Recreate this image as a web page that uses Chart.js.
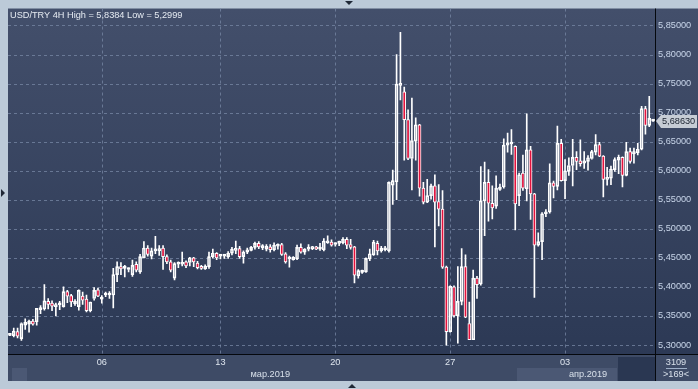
<!DOCTYPE html>
<html>
<head>
<meta charset="utf-8">
<script src="https://cdn.jsdelivr.net/npm/chart.js@4.4.0/dist/chart.umd.min.js"></script>
<style>
  html, body { margin: 0; padding: 0; background: #bccad8; }
  #wrap { width: 698px; height: 389px; position: relative; }
</style>
</head>
<body>
<div id="wrap"><canvas id="Chart"></canvas></div>
<script>
// USD/TRY 4H candles
var opens = [
  5.3165,5.316,5.323,5.311,5.334,5.336,5.341,5.340,5.361,5.362,5.375,5.372,5.366,5.369,5.366,5.392,5.385,5.371,5.366,5.384,5.379,5.359,5.380,5.395,5.379,5.386,5.386,5.386,5.421,5.435,5.432,5.430,5.421,
  5.439,5.426,5.450,5.467,5.453,5.462,5.462,5.467,5.452,5.443,5.415,5.439,5.439,5.443,5.442,5.450,5.441,5.434,5.431,5.435,5.452,5.458,5.453,5.453,5.452,5.458,5.463,5.466,5.452,5.460,5.463,5.468,5.475,5.467,
  5.465,5.469,5.464,5.470,5.473,5.457,5.448,5.447,5.448,5.468,5.460,5.465,5.466,5.469,5.465,5.464,5.476,5.477,5.473,5.475,5.476,5.482,5.473,5.469,5.419,5.425,5.426,5.448,5.455,5.475,5.462,5.464,5.462,
  5.575,5.581,5.747,5.736,5.688,5.621,5.651,5.679,5.570,5.546,5.557,5.574,5.547,5.534,5.434,5.323,5.400,5.350,5.375,5.435,5.337,5.309,5.415,5.405,5.548,5.580,5.544,5.539,5.568,5.572,5.644,5.646,5.642,5.557,5.596,
  5.569,5.636,5.560,5.472,5.478,5.526,5.529,5.579,5.573,5.647,5.583,5.599,5.609,5.623,5.617,5.613,5.616,5.621,5.632,5.645,5.625,5.585,5.587,5.602,5.618,5.623,5.592,5.633,5.629,5.631,5.637,5.707,5.678,5.6855
];
var highs = [
  5.318,5.329,5.329,5.338,5.345,5.343,5.344,5.363,5.368,5.404,5.380,5.376,5.372,5.375,5.400,5.394,5.387,5.378,5.395,5.391,5.386,5.374,5.399,5.398,5.385,5.391,5.392,5.432,5.443,5.442,5.437,5.433,5.446,
  5.443,5.456,5.478,5.471,5.467,5.487,5.471,5.471,5.455,5.446,5.442,5.443,5.460,5.445,5.451,5.451,5.444,5.437,5.438,5.460,5.465,5.459,5.456,5.456,5.461,5.468,5.479,5.470,5.462,5.467,5.470,5.477,5.478,5.473,
  5.473,5.473,5.476,5.474,5.475,5.459,5.453,5.452,5.472,5.474,5.466,5.473,5.470,5.470,5.475,5.483,5.488,5.481,5.476,5.479,5.485,5.485,5.482,5.470,5.430,5.429,5.450,5.465,5.480,5.479,5.470,5.470,5.581,
  5.601,5.800,5.8384,5.744,5.705,5.725,5.691,5.680,5.580,5.585,5.577,5.593,5.576,5.566,5.436,5.402,5.402,5.435,5.466,5.455,5.374,5.429,5.418,5.607,5.615,5.602,5.574,5.591,5.577,5.655,5.665,5.671,5.643,5.596,5.627,
  5.698,5.642,5.561,5.493,5.528,5.533,5.612,5.582,5.677,5.654,5.619,5.622,5.654,5.633,5.653,5.633,5.626,5.635,5.662,5.649,5.626,5.606,5.608,5.622,5.627,5.624,5.649,5.639,5.639,5.647,5.711,5.711,5.728,5.687
];
var lows = [
  5.316,5.314,5.312,5.308,5.327,5.322,5.334,5.334,5.354,5.360,5.362,5.359,5.350,5.361,5.365,5.373,5.366,5.368,5.360,5.370,5.357,5.357,5.377,5.383,5.372,5.383,5.380,5.364,5.409,5.421,5.417,5.426,5.418,
  5.426,5.423,5.450,5.453,5.448,5.457,5.454,5.430,5.440,5.426,5.412,5.433,5.436,5.433,5.436,5.435,5.431,5.430,5.430,5.432,5.450,5.447,5.448,5.449,5.449,5.455,5.457,5.449,5.441,5.457,5.462,5.465,5.466,5.464,
  5.462,5.460,5.462,5.465,5.454,5.441,5.434,5.446,5.447,5.458,5.456,5.462,5.464,5.464,5.463,5.462,5.475,5.470,5.470,5.471,5.474,5.466,5.465,5.407,5.415,5.423,5.425,5.445,5.454,5.455,5.460,5.462,5.460,
  5.542,5.550,5.722,5.618,5.619,5.567,5.618,5.556,5.543,5.545,5.551,5.469,5.505,5.432,5.2999,5.322,5.348,5.303,5.369,5.347,5.309,5.309,5.380,5.403,5.488,5.513,5.517,5.535,5.566,5.570,5.632,5.628,5.498,5.540,5.566,
  5.548,5.516,5.382,5.470,5.447,5.521,5.527,5.553,5.567,5.582,5.552,5.592,5.574,5.602,5.608,5.604,5.601,5.620,5.627,5.624,5.555,5.575,5.576,5.599,5.595,5.572,5.591,5.613,5.613,5.627,5.636,5.663,5.676,5.685
];
var closes = [
  5.3175,5.324,5.315,5.337,5.339,5.341,5.336,5.363,5.363,5.376,5.370,5.367,5.369,5.371,5.392,5.384,5.374,5.375,5.394,5.377,5.359,5.374,5.394,5.384,5.380,5.387,5.388,5.421,5.435,5.431,5.433,5.431,5.437,
  5.429,5.452,5.467,5.456,5.462,5.465,5.466,5.452,5.443,5.429,5.440,5.441,5.441,5.436,5.450,5.443,5.433,5.432,5.436,5.452,5.458,5.450,5.455,5.455,5.458,5.465,5.466,5.452,5.460,5.464,5.468,5.475,5.469,5.471,
  5.470,5.464,5.472,5.472,5.456,5.443,5.449,5.451,5.468,5.460,5.465,5.467,5.469,5.465,5.466,5.479,5.479,5.472,5.475,5.477,5.482,5.472,5.468,5.420,5.428,5.426,5.449,5.457,5.477,5.462,5.467,5.467,5.580,
  5.583,5.749,5.750,5.688,5.621,5.652,5.679,5.570,5.546,5.557,5.574,5.546,5.534,5.434,5.323,5.401,5.350,5.375,5.435,5.348,5.309,5.415,5.404,5.548,5.580,5.544,5.536,5.570,5.572,5.644,5.648,5.649,5.543,5.593,5.570,
  5.636,5.560,5.472,5.478,5.526,5.529,5.579,5.573,5.647,5.583,5.600,5.609,5.623,5.616,5.612,5.617,5.622,5.633,5.645,5.625,5.585,5.588,5.603,5.619,5.623,5.592,5.633,5.616,5.633,5.637,5.707,5.678,5.690,5.6863
];

// Axis ticks
var yTicks = [5.30, 5.35, 5.40, 5.45, 5.50, 5.55, 5.60, 5.65, 5.70, 5.75, 5.80, 5.85];
var dayTickIndex = [24, 55, 85, 115, 145];
var dayTickText = ['06', '13', '20', '27', '03'];
var monthText = ['мар.2019', 'апр.2019'];
var monthIndex = [68, 151];

var titleText = 'USD/TRY 4H High = 5,8384 Low = 5,2999';
var barCount = '3109';
var visibleCount = '>169<';

var FONT = '9.2px "Liberation Sans", Arial, sans-serif';

// ----------------------------------- Data for bars -------------------------------------------
var labels = opens.map(function(v, i) { return i; });
var bodies = opens.map(function(o, i) { return [o, closes[i]]; });
var upperWick = highs.map(function(h, i) { return [Math.max(opens[i], closes[i]), h]; });
var lowerWick = lows.map(function(l, i) { return [l, Math.min(opens[i], closes[i])]; });

function fmt(v) { return v.toFixed(5).replace('.', ','); }

// ----------------------------------- Decoration plugin -------------------------------------------
var frame = {
  id: 'frame',
  beforeDraw: function(chart) {
    var ctx = chart.ctx, a = chart.chartArea;
    var W = chart.width, H = chart.height;
    var xs = chart.scales.x;
    ctx.save();
    ctx.fillStyle = '#bccad8';
    ctx.fillRect(0, 0, W, H);
    // plot + right axis panel
    var g = ctx.createLinearGradient(0, a.top, 0, a.bottom);
    g.addColorStop(0, '#434f6b');
    g.addColorStop(1, '#2c3955');
    ctx.fillStyle = g;
    ctx.fillRect(a.left, a.top, W - a.left, a.bottom - a.top);
    // bottom axis strip
    ctx.fillStyle = '#3e4b66';
    ctx.fillRect(a.left, a.bottom, W - a.left, xs.bottom - a.bottom);
    ctx.fillStyle = '#4b5874';
    ctx.fillRect(12, a.bottom + 14, 15, xs.bottom - a.bottom - 14);
    ctx.fillRect(517, a.bottom + 14, 100, xs.bottom - a.bottom - 14);
    ctx.fillStyle = '#2a3752';
    ctx.fillRect(618, a.bottom + 3, a.right - 618, xs.bottom - a.bottom - 3);
    // little triangles on the frame
    ctx.fillStyle = '#1f2836';
    ctx.beginPath(); ctx.moveTo(345, 1); ctx.lineTo(353, 1); ctx.lineTo(349, 5); ctx.fill();
    ctx.beginPath(); ctx.moveTo(348, 388); ctx.lineTo(356, 388); ctx.lineTo(352, 384); ctx.fill();
    ctx.beginPath(); ctx.moveTo(1, 189); ctx.lineTo(1, 197); ctx.lineTo(5, 193); ctx.fill();
    ctx.restore();
  },
  beforeDatasetsDraw: function(chart) {
    var ctx = chart.ctx, a = chart.chartArea;
    var xs = chart.scales.x, ys = chart.scales.y;
    ctx.save();
    ctx.strokeStyle = 'rgba(120,136,166,0.75)';
    ctx.lineWidth = 1;
    ctx.setLineDash([3, 3]);
    yTicks.forEach(function(v) {
      var y = Math.round(ys.getPixelForValue(v)) + 0.5;
      ctx.beginPath(); ctx.moveTo(a.left, y); ctx.lineTo(a.right, y); ctx.stroke();
    });
    dayTickIndex.forEach(function(i) {
      var x = Math.round(xs.getPixelForValue(i)) + 0.5;
      ctx.beginPath(); ctx.moveTo(x, a.top); ctx.lineTo(x, a.bottom); ctx.stroke();
    });
    ctx.restore();
  },
  afterDraw: function(chart) {
    var ctx = chart.ctx, a = chart.chartArea;
    var xs = chart.scales.x, ys = chart.scales.y;
    var W = chart.width;
    ctx.save();
    // separators
    ctx.strokeStyle = '#05080d';
    ctx.lineWidth = 1;
    ctx.beginPath();
    ctx.moveTo(a.left, a.bottom + 0.5); ctx.lineTo(W, a.bottom + 0.5);
    ctx.moveTo(a.right + 0.5, a.top); ctx.lineTo(a.right + 0.5, xs.bottom);
    ctx.stroke();
    // title
    ctx.font = FONT;
    ctx.fillStyle = '#e6ebf2';
    ctx.textAlign = 'left';
    ctx.textBaseline = 'middle';
    ctx.fillText(titleText, 10, a.top + 7);
    // month labels
    ctx.textAlign = 'center';
    ctx.fillStyle = '#d8e0ea';
    monthText.forEach(function(t, k) {
      ctx.fillText(t, xs.getPixelForValue(monthIndex[k]), a.bottom + 20);
    });
    // bar counters
    ctx.fillText(barCount, 676, a.bottom + 8);
    ctx.fillText(visibleCount, 676, a.bottom + 20);
    ctx.strokeStyle = '#9fb0c8';
    ctx.beginPath(); ctx.moveTo(666, a.bottom + 14.5); ctx.lineTo(687, a.bottom + 14.5); ctx.stroke();
    // last price marker
    var last = closes[closes.length - 1];
    var y = Math.round(ys.getPixelForValue(last));
    ctx.fillStyle = '#c6ccd5';
    ctx.beginPath();
    ctx.moveTo(656, y);
    ctx.lineTo(661, y - 6);
    ctx.lineTo(697, y - 6);
    ctx.lineTo(697, y + 7);
    ctx.lineTo(661, y + 7);
    ctx.closePath();
    ctx.fill();
    ctx.fillStyle = '#18202e';
    ctx.textAlign = 'left';
    ctx.fillText(fmt(last), 662, y + 0.5);
    ctx.restore();
  }
};

// ----------------------------------- Chart.js -------------------------------------------
var wickStyle = {
  type: 'bar',
  backgroundColor: '#ffffff',
  borderWidth: 0,
  barThickness: 1,
  grouped: false,
  order: 2
};

var myChart = new Chart(document.getElementById('Chart'), {
  type: 'bar',
  data: {
    labels: labels,
    datasets: [
      Object.assign({ label: 'upper', data: upperWick }, wickStyle),
      Object.assign({ label: 'lower', data: lowerWick }, wickStyle),
      {
        label: 'USD/TRY',
        data: bodies,
        backgroundColor: function(c) {
          var i = c.dataIndex;
          return closes[i] >= opens[i] ? 'rgba(0,0,0,0)' : '#e3123d';
        },
        borderColor: '#ffffff',
        borderWidth: 1,
        borderSkipped: false,
        barThickness: 3,
        minBarLength: 2,
        grouped: false,
        order: 1
      }
    ]
  },
  options: {
    responsive: true,
    maintainAspectRatio: false,
    animation: false,
    events: [],
    layout: { padding: { left: 8, top: 8, right: 0, bottom: 8 } },
    plugins: { legend: { display: false }, tooltip: { enabled: false } },
    scales: {
      x: {
        type: 'category',
        offset: true,
        grid: { display: false, drawTicks: false },
        border: { display: false },
        ticks: {
          autoSkip: false,
          maxRotation: 0,
          padding: 3,
          color: '#dfe6ef',
          font: { family: '"Liberation Sans", Arial, sans-serif', size: 9.2 },
          callback: function(v, i) {
            var k = dayTickIndex.indexOf(i);
            return k >= 0 ? dayTickText[k] : '';
          }
        },
        afterFit: function(s) { s.height = 27; }
      },
      y: {
        position: 'right',
        min: 5.2845,
        max: 5.8792,
        grid: { display: false, drawTicks: false },
        border: { display: false },
        afterBuildTicks: function(s) {
          s.ticks = yTicks.map(function(v) { return { value: v }; });
        },
        ticks: {
          padding: 3,
          crossAlign: 'near',
          color: '#c9d6ea',
          font: { family: '"Liberation Sans", Arial, sans-serif', size: 9.2 },
          callback: function(v) { return fmt(v); }
        },
        afterFit: function(s) { s.width = 43; }
      }
    }
  },
  plugins: [frame]
});
</script>
</body>
</html>
